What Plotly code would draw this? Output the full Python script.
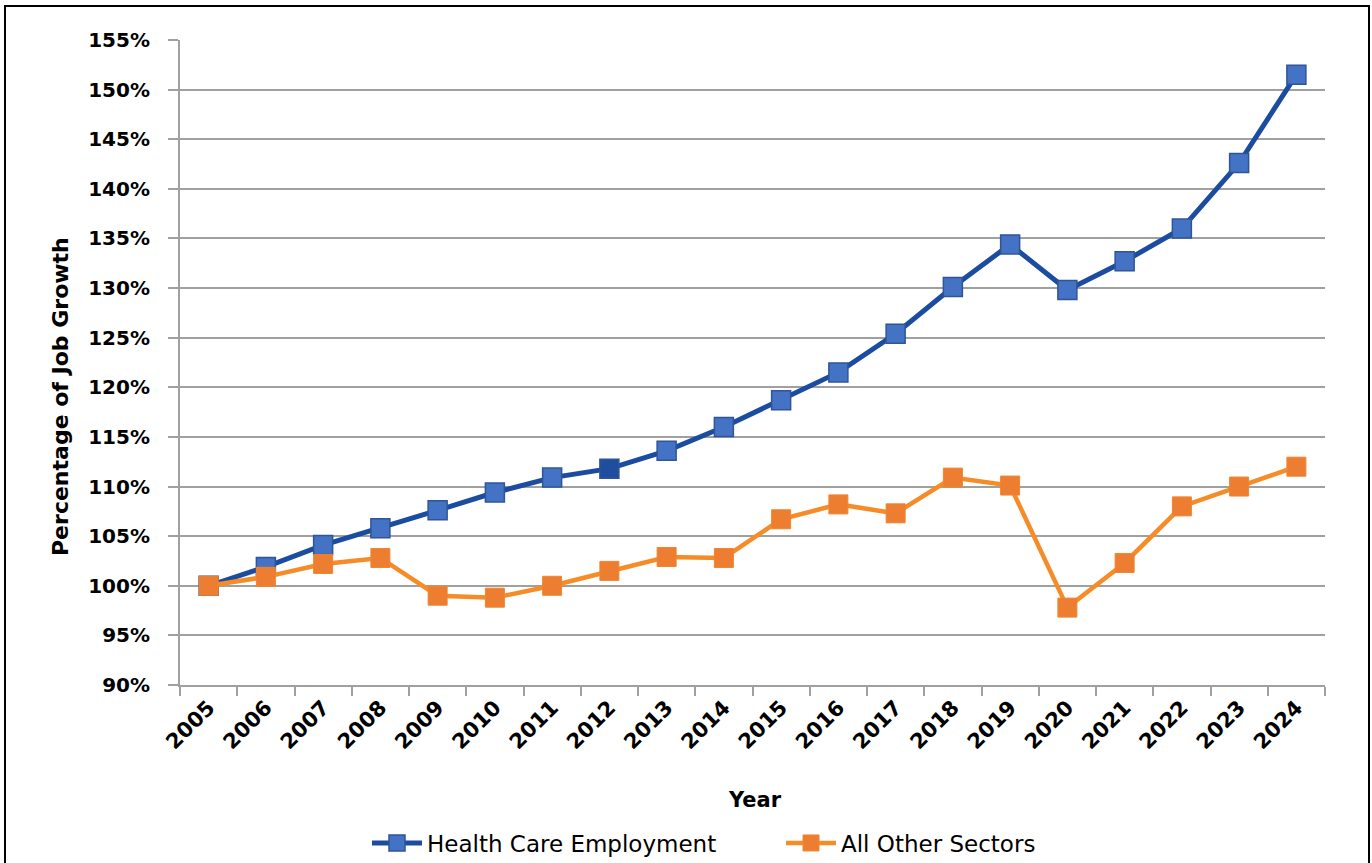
import plotly.graph_objects as go

years = [str(y) for y in range(2005, 2025)]
health_care = [100.0, 101.9, 104.1, 105.8, 107.6, 109.4, 110.9, 111.8, 113.6, 116.0,
               118.7, 121.5, 125.4, 130.1, 134.4, 129.8, 132.7, 136.0, 142.6, 151.5]
all_other = [100.0, 100.9, 102.2, 102.8, 99.0, 98.8, 100.0, 101.5, 102.9, 102.8,
             106.7, 108.2, 107.3, 110.9, 110.1, 97.8, 102.3, 108.0, 110.0, 112.0]
y_ticks = list(range(90, 156, 5))
y_tick_text = [f"{v}%" for v in y_ticks]

W, H = 1372, 863
L, R, T, B = 180, 47, 40, 178
pw, ph = W - L - R, H - T - B

def px_x(p):
    return (p - L) / pw

def px_y(p):
    return (H - B - p) / ph

blue_line = "#1C4CA0"
blue_fill = "#4472C4"
blue_edge = "#2F5597"
orange_line = "#F58C28"
orange_fill = "#ED7D31"

hc_fill = [blue_fill] * len(years)
hc_fill[years.index("2012")] = "#1F4E9F"

FONT = "DejaVu Sans, sans-serif"

fig = go.Figure()
fig.add_trace(go.Scatter(
    x=years, y=health_care, mode="lines+markers", name="Health Care Employment",
    line=dict(color=blue_line, width=5), legend="legend",
    marker=dict(symbol="square", size=19, color=hc_fill, line=dict(color=blue_edge, width=1.5)),
))
fig.add_trace(go.Scatter(
    x=years, y=all_other, mode="lines+markers", name="All Other Sectors",
    line=dict(color=orange_line, width=4.5), legend="legend2",
    marker=dict(symbol="square", size=19, color=orange_fill, line=dict(color="#F0852F", width=1)),
))

grid = "#A0A0A0"
leg_common = dict(orientation="h", xanchor="left", yanchor="middle", y=px_y(843),
                  font=dict(size=23, family=FONT), itemwidth=50, bgcolor="rgba(0,0,0,0)")
fig.update_layout(
    width=W, height=H,
    margin=dict(l=L, r=R, t=T, b=B, autoexpand=False),
    paper_bgcolor="white", plot_bgcolor="white",
    font=dict(family=FONT, color="black"),
    showlegend=True,
    legend=dict(x=px_x(367), **leg_common),
    legend2=dict(x=px_x(781), **leg_common),
    xaxis=dict(type="category", tickangle=-45, tickson="boundaries", ticks="outside",
               ticklen=9, tickwidth=2, tickcolor=grid, showline=True, linecolor=grid, linewidth=2,
               showgrid=False, tickfont=dict(size=21, family=FONT, weight="bold"),
               range=[-0.5, len(years) - 0.5]),
    yaxis=dict(range=[90, 155], tickvals=y_ticks, ticktext=y_tick_text, ticks="outside", ticklen=10,
               tickwidth=2, tickcolor=grid, showline=True, linecolor=grid, linewidth=2,
               showgrid=True, gridcolor=grid, gridwidth=2, zeroline=False,
               ticklabelstandoff=14,
               tickfont=dict(size=20, family=FONT, weight="bold")),
    annotations=[
        dict(text="Year", xref="paper", yref="paper", x=px_x(755), y=px_y(800),
             showarrow=False, font=dict(size=21, weight="bold", family=FONT),
             xanchor="center", yanchor="middle"),
        dict(text="Percentage of Job Growth", xref="paper", yref="paper", x=px_x(60), y=px_y(397),
             showarrow=False, textangle=-90,
             font=dict(size=22, weight="bold", family=FONT),
             xanchor="center", yanchor="middle"),
    ],
    shapes=[dict(type="rect", xref="paper", yref="paper", x0=px_x(5), x1=px_x(1369),
                 y0=px_y(880), y1=px_y(6), line=dict(color="black", width=2),
                 fillcolor="rgba(0,0,0,0)", layer="below")],
)

fig.write_html("out.html", config={"displayModeBar": False},
               post_script="document.body.style.margin='0';document.body.style.overflow='hidden';")
